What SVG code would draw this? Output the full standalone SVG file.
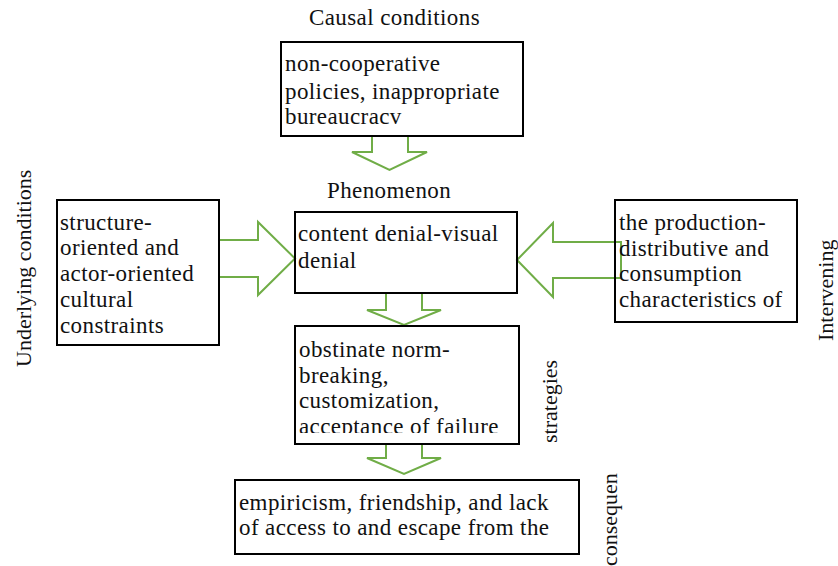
<svg xmlns="http://www.w3.org/2000/svg" width="838" height="566" viewBox="0 0 838 566">
<style>
  .t { font-family: 'Liberation Serif', 'DejaVu Serif', serif; font-size: 23px; fill: #111; letter-spacing: 0.4px; }
  .box { fill: none; stroke: #000; stroke-width: 2; }
  .arr { fill: none; stroke: #70AD47; stroke-width: 2; stroke-linejoin: miter; }
  .lbl { font-size: 22px; letter-spacing: 0; }
</style>
<defs>
  <clipPath id="clipLeft"><rect x="57" y="200" width="162" height="134"/></clipPath>
  <clipPath id="clipStrat"><rect x="295" y="326" width="224" height="107"/></clipPath>
</defs>
<rect width="838" height="566" fill="#fff"/>
<g id="connectors">
  <polygon class="arr" points="372,136 408,136 408,152 427,152 389.5,170 352,152 372,152"/>
  <polygon class="arr" points="219,240 258,240 258,222 295,258.5 258,295 258,277 219,277"/>
  <polygon class="arr" points="621,242 553,242 553,223 517,260 553,297 553,278 621,278"/>
  <polygon class="arr" points="386,293 422,293 422,310 441,310 404,325 367,310 386,310"/>
  <polygon class="arr" points="386,444 422,444 422,458 441,458 404,474 367,458 386,458"/>
</g>
<g class="t">
<g id="causal">
  <text x="309" y="25">Causal conditions</text>
  <rect class="box" x="281" y="42" width="242" height="94"/>
  <text x="285" y="71">non-cooperative</text>
  <text x="285" y="99">policies, inappropriate</text>
  <text x="285" y="124">bureaucracv</text>
</g>
<g id="phenomenon">
  <text x="327" y="198">Phenomenon</text>
  <rect class="box" x="295" y="212" width="222" height="81"/>
  <text x="298" y="241">content denial-visual</text>
  <text x="298" y="268">denial</text>
</g>
<g id="underlying">
  <text class="lbl" transform="translate(31,367) rotate(-90)">Underlying conditions</text>
  <rect class="box" x="57" y="200" width="162" height="145"/>
  <g clip-path="url(#clipLeft)">
    <text x="60" y="230">structure-</text>
    <text x="60" y="255">oriented and</text>
    <text x="60" y="281">actor-oriented</text>
    <text x="60" y="307">cultural</text>
    <text x="60" y="333">constraints</text>
  </g>
</g>
<g id="intervening">
  <text class="lbl" transform="translate(833,341) rotate(-90)">Intervening</text>
  <rect class="box" x="615" y="200" width="182" height="122"/>
  <text x="619" y="230">the production-</text>
  <text x="619" y="256">distributive and</text>
  <text x="619" y="281">consumption</text>
  <text x="619" y="307">characteristics of</text>
</g>
<g id="strategies">
  <text class="lbl" transform="translate(557,443) rotate(-90)">strategies</text>
  <rect class="box" x="295" y="326" width="224" height="118"/>
  <g clip-path="url(#clipStrat)">
    <text x="299" y="357">obstinate norm-</text>
    <text x="299" y="383">breaking,</text>
    <text x="299" y="408">customization,</text>
    <text x="299" y="434">acceptance of failure</text>
  </g>
</g>
<g id="consequences">
  <text class="lbl" transform="translate(617,566) rotate(-90)">consequen</text>
  <rect class="box" x="235" y="480" width="344" height="74"/>
  <text x="239" y="510">empiricism, friendship, and lack</text>
  <text x="239" y="535">of access to and escape from the</text>
</g>
</g>
</svg>
